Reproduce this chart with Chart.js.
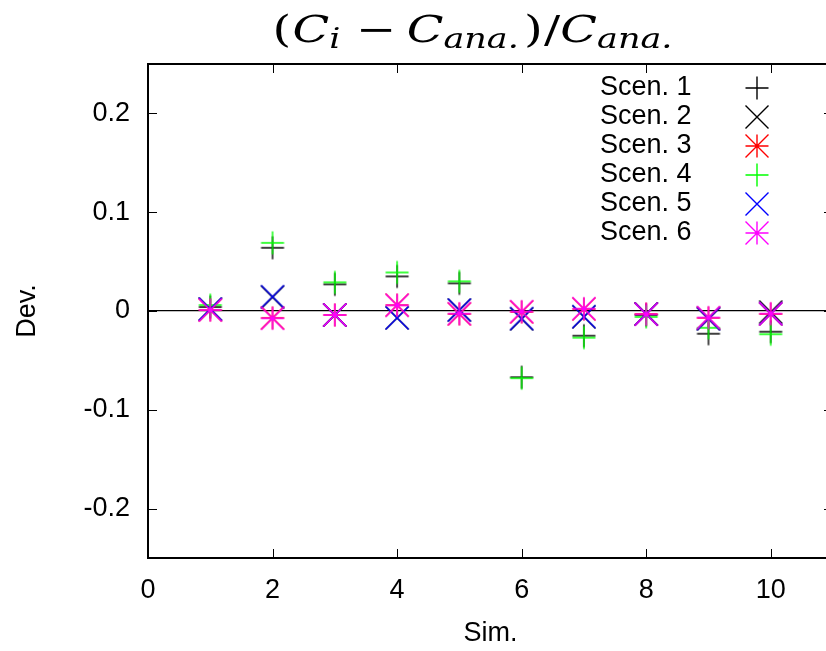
<!DOCTYPE html>
<html>
<head>
<meta charset="utf-8">
<script src="https://cdn.jsdelivr.net/npm/chart.js@4.4.1/dist/chart.umd.min.js"></script>
<style>
  html, body { margin: 0; padding: 0; background: #fff; overflow: hidden; }
  #chart { display: block; }
</style>
</head>
<body>
<canvas id="chart" width="834" height="651"></canvas>
<script>
// ─── Data ─────────────────────────────────────────────────────────────────
const simIds   = [1, 2, 3, 4, 5, 6, 7, 8, 9, 10];
const scen1    = [0.004, 0.064, 0.027, 0.035, 0.028, -0.067, -0.025, -0.004, -0.023, -0.021];
const scen2    = [0.002, 0.014, -0.004, -0.007, 0.001, -0.008, -0.006, -0.003, -0.008, -0.001];
const scen3    = [0.001, -0.007, -0.004, 0.006, -0.003, -0.001, 0.002, -0.003, -0.007, -0.003];
const scen4    = [0.006, 0.069, 0.029, 0.039, 0.030, -0.068, -0.027, -0.006, -0.017, -0.0235];
const scen5    = [0.002, 0.0145, -0.004, -0.007, 0.001, -0.0077, -0.0057, -0.003, -0.0077, -0.0027];
const scen6    = [0.001, -0.0074, -0.004, 0.0058, -0.0027, -0.0006, 0.0024, -0.0033, -0.0067, -0.0027];
const legendLabels = ['Scen. 1', 'Scen. 2', 'Scen. 3', 'Scen. 4', 'Scen. 5', 'Scen. 6'];
const xTicks   = [0, 2, 4, 6, 8, 10];
const yTicks   = [-0.2, -0.1, 0, 0.1, 0.2];

const FONT = 'Liberation Sans, Arial, sans-serif';

// ─── gnuplot-like markers as small canvases ──────────────────────────────
function makeMarker(kind, color) {
    const s = 26, c = s / 2, h = 11.5;
    const cv = document.createElement('canvas');
    cv.width = s; cv.height = s;
    const g = cv.getContext('2d');
    g.strokeStyle = color;
    g.lineWidth = 1.4;
    g.beginPath();
    if (kind === 'plus' || kind === 'star') {
        g.moveTo(c - h, c); g.lineTo(c + h, c);
        g.moveTo(c, c - h); g.lineTo(c, c + h);
    }
    if (kind === 'cross' || kind === 'star') {
        g.moveTo(c - h, c - h); g.lineTo(c + h, c + h);
        g.moveTo(c - h, c + h); g.lineTo(c + h, c - h);
    }
    g.stroke();
    if (kind === 'star') {
        g.fillStyle = color;
        g.beginPath(); g.arc(c, c, 1.6, 0, Math.PI * 2); g.fill();
    }
    return cv;
}

const seriesDefs = [
    { data: scen1, kind: 'plus',  color: '#000000' },
    { data: scen2, kind: 'cross', color: '#000000' },
    { data: scen3, kind: 'star',  color: '#ff0000' },
    { data: scen4, kind: 'plus',  color: '#00ff00' },
    { data: scen5, kind: 'cross', color: '#0000ff' },
    { data: scen6, kind: 'star',  color: '#ff00ff' }
];
seriesDefs.forEach(d => d.img = makeMarker(d.kind, d.color));

// ─── Plugins ──────────────────────────────────────────────────────────────

// Inward tick marks on all four sides + frame, like gnuplot
const framePlugin = {
    id: 'frame',
    afterDatasetsDraw(chart) {
        const { ctx, chartArea: a, scales: { x, y } } = chart;
        const tl = 9;
        ctx.save();
        ctx.strokeStyle = '#000';
        ctx.lineWidth = 1;
        ctx.beginPath();
        xTicks.forEach(v => {
            const px = Math.round(x.getPixelForValue(v)) + 0.5;
            ctx.moveTo(px, a.bottom); ctx.lineTo(px, a.bottom - tl);
            ctx.moveTo(px, a.top);    ctx.lineTo(px, a.top + tl);
        });
        yTicks.forEach(v => {
            const py = Math.round(y.getPixelForValue(v)) + 0.5;
            ctx.moveTo(a.left, py);  ctx.lineTo(a.left + tl, py);
            ctx.moveTo(a.right, py); ctx.lineTo(a.right - tl, py);
        });
        ctx.stroke();
        ctx.lineWidth = 2;
        ctx.strokeRect(a.left, a.top, a.right - a.left, a.bottom - a.top);
        ctx.restore();
    }
};

// Legend: text on the left, marker on the right
const keyPlugin = {
    id: 'key',
    afterDraw(chart) {
        const { ctx } = chart;
        ctx.save();
        ctx.font = `27px ${FONT}`;
        ctx.fillStyle = '#000';
        ctx.textBaseline = 'middle';
        ctx.textAlign = 'left';
        legendLabels.forEach((lbl, i) => {
            const yy = 88 + i * 29;
            ctx.fillText(lbl, 600, yy);
            const img = seriesDefs[i].img;
            ctx.drawImage(img, 757 - img.width / 2, yy - img.height / 2);
        });
        ctx.restore();
    }
};

// Math-style title (C_i - C_ana.)/C_ana., stretched wide like the original
const titlePlugin = {
    id: 'mathTitle',
    afterDraw(chart) {
        const { ctx } = chart;
        const main = 37, sub = 27;
        const serif = 'DejaVu Serif, serif';
        // [text, italic, subscript, space after]
        const parts = [
            ['(', false, false, 1], ['C', true, false, 0], ['i', true, true, 12],
            ['\u2212', false, false, 8],
            ['C', true, false, 0], ['ana.', true, true, 4],
            [')', false, false, 1], ['/', false, false, 0],
            ['C', true, false, 0], ['ana.', true, true, 0]
        ];
        const fontOf = p => `${p[1] ? 'italic ' : ''}${p[2] ? sub : main}px ${serif}`;
        ctx.save();
        let total = 0;
        parts.forEach(p => { ctx.font = fontOf(p); total += ctx.measureText(p[0]).width + p[3]; });
        const targetW = 400, cx = 472.5, base = 42;
        const sx = targetW / total;
        ctx.translate(cx - targetW / 2, 0);
        ctx.scale(sx, 1);
        let xx = 0;
        ctx.fillStyle = '#000';
        ctx.textBaseline = 'alphabetic';
        ctx.textAlign = 'left';
        parts.forEach(p => {
            ctx.font = fontOf(p);
            ctx.fillText(p[0], xx, p[2] ? base + 6 : base);
            xx += ctx.measureText(p[0]).width + p[3];
        });
        ctx.restore();
    }
};

// ─── Chart ────────────────────────────────────────────────────────────────
const datasets = seriesDefs.map((d, i) => ({
    label: legendLabels[i],
    data: simIds.map((s, j) => ({ x: s, y: d.data[j] })),
    pointStyle: d.img,
    pointRadius: 12,
    pointHoverRadius: 12,
    showLine: false,
    borderColor: d.color,
    backgroundColor: d.color,
    order: seriesDefs.length - i
}));

// plot frame runs a few px past the 826px window on the right, as in the original
new Chart(document.getElementById('chart'), {
    type: 'scatter',
    data: { datasets },
    plugins: [framePlugin, keyPlugin, titlePlugin],
    options: {
        responsive: false,
        animation: false,
        layout: { autoPadding: false, padding: { top: 64, right: 1, left: 0, bottom: 0 } },
        plugins: {
            legend: { display: false },
            tooltip: { enabled: false },
            title: { display: false }
        },
        scales: {
            x: {
                type: 'linear',
                min: 0, max: 11,
                afterFit: s => { s.height = 93; s.paddingLeft = 0; s.paddingRight = 0; },
                afterBuildTicks: s => { s.ticks = xTicks.map(v => ({ value: v })); },
                grid: { display: false, drawTicks: false },
                border: { display: false },
                ticks: {
                    color: '#000',
                    padding: 16,
                    maxRotation: 0,
                    font: { family: FONT, size: 27 },
                    callback: v => String(v)
                },
                title: {
                    display: true, text: 'Sim.', color: '#000',
                    font: { family: FONT, size: 27 },
                    padding: { top: 0, bottom: 1 }
                }
            },
            y: {
                type: 'linear',
                min: -0.25, max: 0.25,
                afterFit: s => { s.width = 148; s.paddingTop = 0; s.paddingBottom = 0; },
                afterBuildTicks: s => { s.ticks = yTicks.map(v => ({ value: v })); },
                grid: {
                    drawTicks: false,
                    lineWidth: 1.3,
                    color: c => (c.tick && Math.abs(c.tick.value) < 1e-9) ? '#000' : 'rgba(0,0,0,0)'
                },
                border: { display: false },
                ticks: {
                    color: '#000',
                    padding: 18,
                    font: { family: FONT, size: 27 },
                    callback: v => String(+v.toFixed(1))
                },
                title: {
                    display: true, text: 'Dev.', color: '#000',
                    font: { family: FONT, size: 27 },
                    padding: { top: 11, bottom: 0 }
                }
            }
        }
    }
});
</script>
</body>
</html>
